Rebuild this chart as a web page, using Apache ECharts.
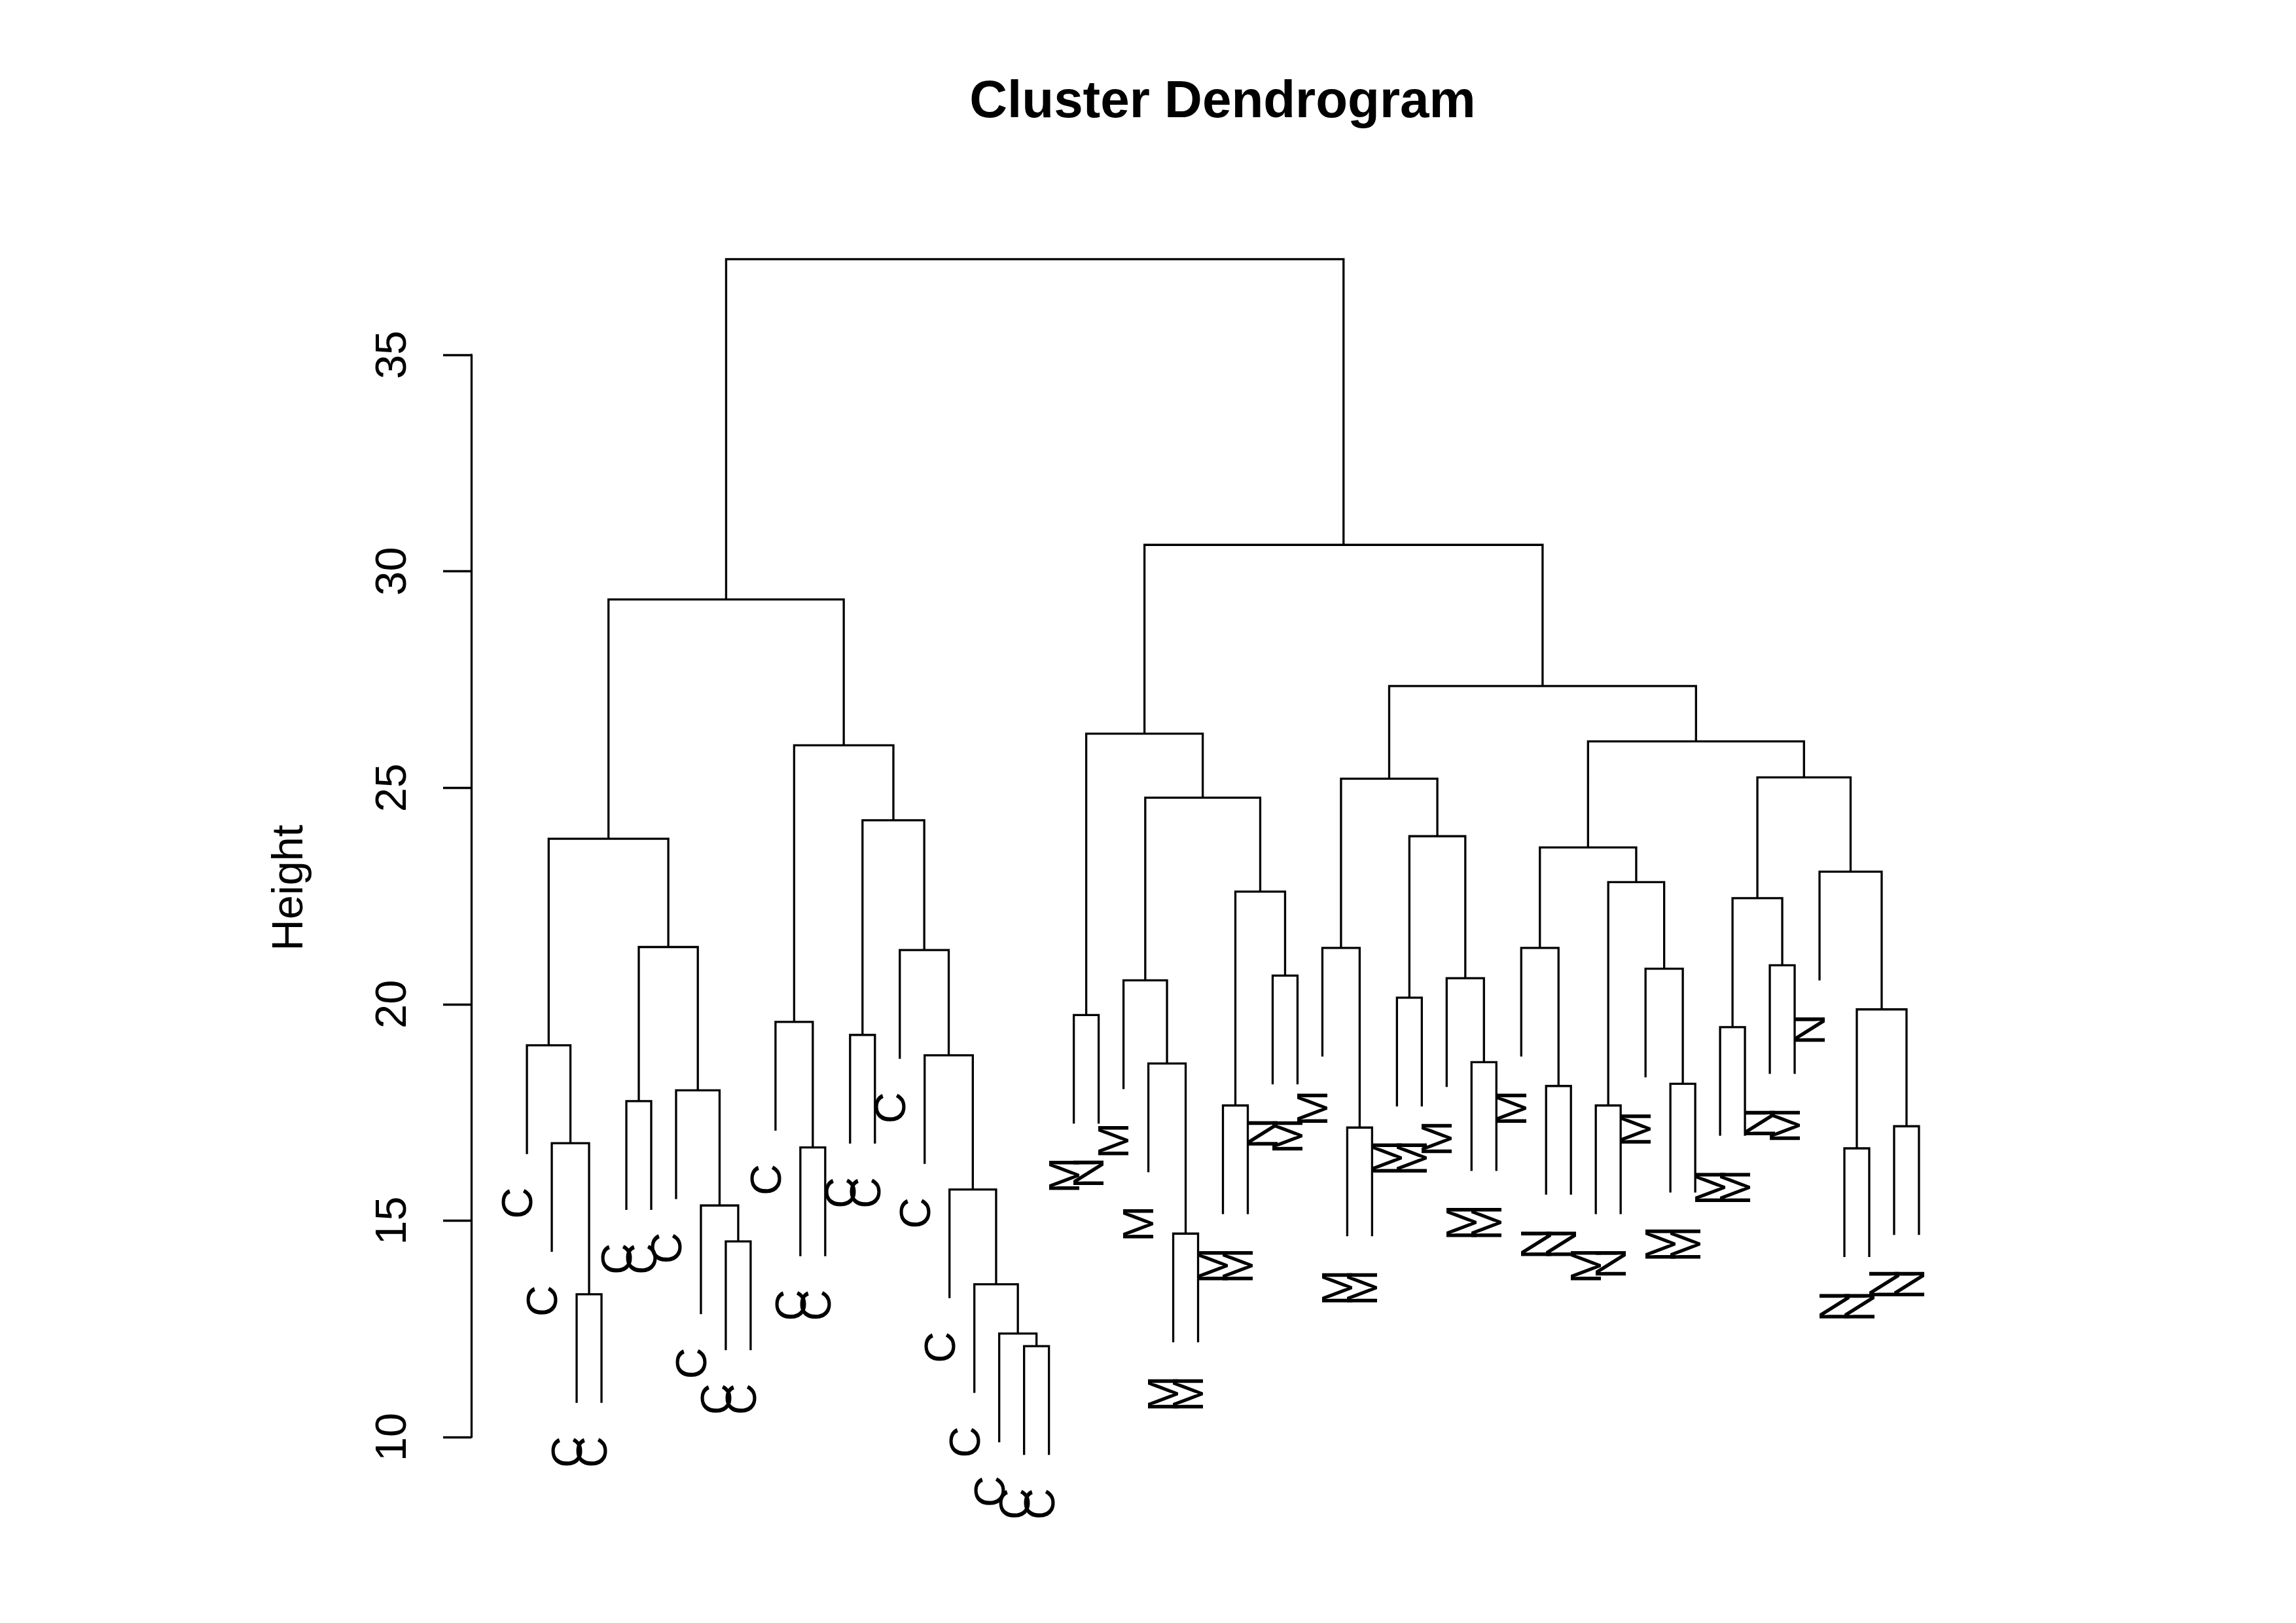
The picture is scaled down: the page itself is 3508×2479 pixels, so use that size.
<!DOCTYPE html>
<html>
<head>
<meta charset="utf-8">
<script src="https://cdn.jsdelivr.net/npm/echarts/dist/echarts.min.js"></script>
<style>
html,body{margin:0;padding:0;background:#fff;}
#chart{width:3508px;height:2479px;}
</style>
</head>
<body>
<div id="chart"></div>
<script>
// Leaf labels in plotting order (left to right)
const leafLabels = [
  'C','C','C','C','C','C','C','C','C','C',
  'C','C','C','C','C','C','C','C','C','C','C','C',
  'M','N','M','M','M','M','M','M','N','M',
  'M','M','M','M','M','M','M','M',
  'M','N','N','M','N','M','M','M',
  'M','M','N','M','N','N','N','N','N'
];
// Merge table (R hclust convention): negative = leaf index, positive = earlier merge
const mergeLeft = [
  -21,-20,-19,-18,-17,-16,-14,7,-12,-11,10,
  -3,-2,-1,-9,-8,-7,-5,18,14,20,
  -23,-27,-26,-25,-29,-31,26,25,22,
  -34,-33,-36,-39,-38,33,32,
  -42,-41,-44,-47,-46,40,39,
  -49,-51,45,-54,-56,48,-53,47,44,37,30,21
];
const mergeRight = [
  -22,1,2,3,4,5,-15,6,-13,9,8,
  -4,12,13,-10,15,16,-6,17,19,11,
  -24,-28,23,24,-30,-32,27,28,29,
  -35,31,-37,-40,34,35,36,
  -43,38,-45,-48,41,42,43,
  -50,-52,46,-55,-57,49,50,51,52,53,54,55
];
const mergeHeights = [
  12.10,12.39,13.53,15.72,18.82,21.25,19.29,24.25,16.69,19.59,25.98,
  13.30,16.79,19.05,14.52,15.35,18.01,17.76,21.32,23.82,29.35,
  19.75,14.70,18.63,20.55,17.66,20.66,22.60,24.77,26.25,
  17.15,21.30,20.15,18.66,20.60,23.88,25.21,
  18.11,21.30,17.66,18.16,20.82,22.82,23.62,
  19.47,20.90,22.45,16.67,17.18,19.88,23.06,25.24,26.07,27.35,30.61,37.21
];
const yTicks = [10, 15, 20, 25, 30, 35];

// ---- build dendrogram geometry (data space) ----
const nLeaves = leafLabels.length;
const hMax = Math.max(...mergeHeights);
const hMin = Math.min(...mergeHeights);
const hang = 0.1 * (hMax - hMin);
const nodeX = [];
const segs = [];
const leaves = [];
function child(c, h) {
  if (c < 0) {
    const x = -c;
    leaves.push([x, h - hang]);
    return { x: x, y: h - hang };
  }
  return { x: nodeX[c - 1], y: mergeHeights[c - 1] };
}
for (let i = 0; i < mergeHeights.length; i++) {
  const h = mergeHeights[i];
  const L = child(mergeLeft[i], h);
  const R = child(mergeRight[i], h);
  nodeX[i] = (L.x + R.x) / 2;
  segs.push([L.x, L.y, R.x, R.y, h]);
}
const xPad = 0.04 * (nLeaves - 1);

const FONT = 'Liberation Sans';
const chart = echarts.init(document.getElementById('chart'), null, { renderer: 'canvas' });
chart.setOption({
  animation: false,
  backgroundColor: '#ffffff',
  grid: { left: 720, right: 491, top: 542, bottom: 284, containLabel: false },
  xAxis: { type: 'value', min: 1 - xPad, max: nLeaves + xPad, show: false },
  yAxis: {
    type: 'value', min: yTicks[0], max: yTicks[yTicks.length - 1], interval: 5,
    axisLine: { show: true, onZero: false, lineStyle: { color: '#000', width: 3.3 } },
    axisTick: { show: true, length: 43, lineStyle: { color: '#000', width: 3.3 } },
    axisLabel: { rotate: 90, margin: 85, fontSize: 66.7, fontFamily: FONT, color: '#000' },
    splitLine: { show: false }
  },
  graphic: [
    { type: 'text', x: 1868, y: 157,
      style: { text: 'Cluster Dendrogram', fontSize: 80, fontWeight: 'bold', fontFamily: FONT,
               fill: '#000', align: 'center', verticalAlign: 'middle' } },
    { type: 'text', x: 444, y: 1356, rotation: Math.PI / 2,
      style: { text: 'Height', fontSize: 66.7, fontFamily: FONT, fill: '#000',
               align: 'center', verticalAlign: 'middle' } }
  ],
  series: [
    {
      type: 'custom', clip: false, silent: true,
      data: segs,
      renderItem: function (params, api) {
        const a = api.coord([api.value(0), api.value(1)]);
        const b = api.coord([api.value(0), api.value(4)]);
        const c = api.coord([api.value(2), api.value(4)]);
        const d = api.coord([api.value(2), api.value(3)]);
        return { type: 'polyline', shape: { points: [a, b, c, d] },
                 style: { stroke: '#000', lineWidth: 3.3, fill: 'none' } };
      }
    },
    {
      type: 'custom', clip: false, silent: true,
      data: leaves,
      renderItem: function (params, api) {
        const p = api.coord([api.value(0), api.value(1)]);
        const idx = api.value(0);
        return { type: 'text', x: p[0] - 10.5, y: p[1] + 51, rotation: Math.PI / 2,
                 style: { text: leafLabels[idx - 1], fontSize: 66.7, fontFamily: FONT,
                          fill: '#000', align: 'right', verticalAlign: 'middle' } };
      }
    }
  ]
});
</script>
</body>
</html>
